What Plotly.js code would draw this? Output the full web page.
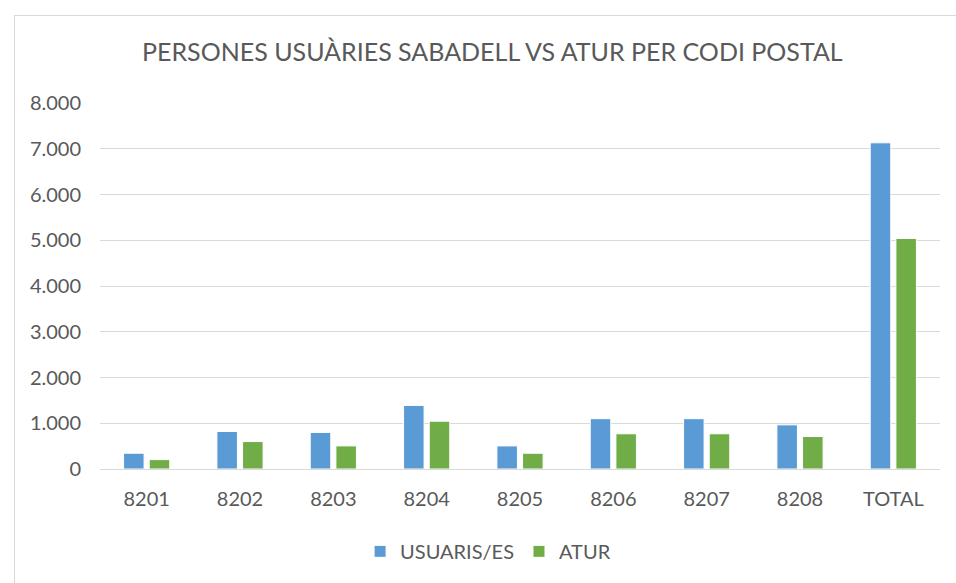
<!DOCTYPE html>
<html><head><meta charset="utf-8">
<script src="https://cdn.plot.ly/plotly-3.0.1.min.js"></script>
<style>html,body{margin:0;padding:0;background:#fff;overflow:hidden}
#frame{position:absolute;left:14px;top:15px;width:960px;height:600px;border:1.5px solid #d9d9d9;pointer-events:none}
</style></head>
<body><div id="chart" style="width:956px;height:583px"></div><div id="frame"></div>
<script>
const categories = ['8201','8202','8203','8204','8205','8206','8207','8208','TOTAL'];
const usuaris = [345, 820, 800, 1390, 505, 1100, 1100, 965, 7130];
const atur = [205, 600, 505, 1045, 345, 770, 770, 710, 5040];
const yTicks = [0,1000,2000,3000,4000,5000,6000,7000,8000];

const font = 'Lato, "Open Sans", sans-serif';
const data = [
  {type:'bar', name:'USUARIS/ES', x:categories, y:usuaris,
   marker:{color:'#5B9BD5', line:{color:'#ffffff', width:1}}},
  {type:'bar', name:'ATUR', x:categories, y:atur,
   marker:{color:'#70AD47', line:{color:'#ffffff', width:1}}}
];
const layout = {
  width:956, height:583,
  margin:{l:100, r:16, t:103, b:114},
  paper_bgcolor:'#fff', plot_bgcolor:'#fff',
  separators:',.',
  font:{family:font, color:'#595959', size:20},
  title:{text:'PERSONES USUÀRIES SABADELL VS ATUR PER CODI POSTAL', font:{family:font, size:25, color:'#595959'}, x:0.515, xanchor:'center', y:0.91, yanchor:'middle'},
  barmode:'group', bargap:0.45, bargroupgap:0.2,
  xaxis:{type:'category', showline:true, linecolor:'#d9d9d9', linewidth:1, ticks:'', ticklabelstandoff:12, tickfont:{size:20, color:'#595959'}, showgrid:false},
  yaxis:{range:[0,8000], tickvals:yTicks, tickformat:',d', showgrid:true, gridcolor:'#d9d9d9', gridwidth:1, zeroline:false, showline:false, ticks:'', ticklen:0, ticklabelstandoff:18, tickfont:{size:20, color:'#595959'}, automargin:false},
  legend:{orientation:'h', x:0.462, xanchor:'center', y:-0.225, yanchor:'middle', font:{size:20, color:'#595959'}, itemwidth:30},
  showlegend:true
};
Plotly.newPlot('chart', data, layout, {displayModeBar:false, staticPlot:true});
</script></body></html>
